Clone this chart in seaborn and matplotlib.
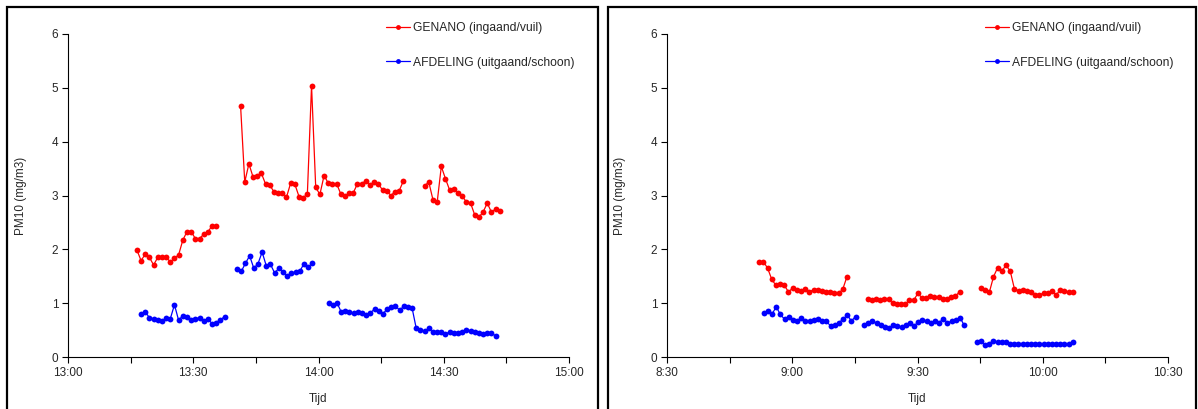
import matplotlib
matplotlib.use("Agg")
import matplotlib.pyplot as plt
import matplotlib.dates as mdates
from matplotlib.lines import Line2D
from matplotlib.patches import Rectangle
import seaborn as sns
import pandas as pd

# ---- data (1-minute readings, gaps between measurement blocks) ----
DAY = "2000-01-01 "

# left panel (afternoon)
left_red_starts = ["13:16:30", "13:41:20", "14:25:25"]
left_red_seg1 = [1.99, 1.79, 1.91, 1.85, 1.71, 1.85, 1.85, 1.85, 1.77, 1.83,
                 1.90, 2.17, 2.33, 2.33, 2.20, 2.20, 2.28, 2.32, 2.44, 2.44]
left_red_seg2 = [4.67, 3.25, 3.59, 3.34, 3.36, 3.41, 3.21, 3.19, 3.07, 3.05,
                 3.05, 2.97, 3.23, 3.21, 2.98, 2.96, 3.03, 5.04, 3.15, 3.02,
                 3.37, 3.23, 3.22, 3.22, 3.03, 2.99, 3.04, 3.05, 3.22, 3.22,
                 3.27, 3.20, 3.25, 3.22, 3.10, 3.09, 3.00, 3.07, 3.09, 3.27]
left_red_seg3 = [3.18, 3.25, 2.92, 2.87, 3.54, 3.31, 3.10, 3.12, 3.04, 2.99,
                 2.88, 2.86, 2.64, 2.60, 2.69, 2.86, 2.69, 2.75, 2.71]

left_blue_starts = ["13:17:30", "13:40:30", "14:02:25"]
left_blue_seg1 = [0.80, 0.84, 0.73, 0.71, 0.69, 0.67, 0.72, 0.71, 0.97, 0.68,
                  0.77, 0.74, 0.69, 0.71, 0.73, 0.67, 0.71, 0.62, 0.64, 0.69, 0.75]
left_blue_seg2 = [1.64, 1.59, 1.74, 1.88, 1.65, 1.73, 1.95, 1.69, 1.72, 1.56,
                  1.65, 1.58, 1.50, 1.56, 1.58, 1.59, 1.73, 1.67, 1.74]
left_blue_seg3 = [1.01, 0.97, 1.01, 0.84, 0.85, 0.83, 0.82, 0.84, 0.81, 0.78,
                  0.82, 0.89, 0.85, 0.80, 0.89, 0.93, 0.95, 0.87, 0.94, 0.93,
                  0.91, 0.53, 0.50, 0.48, 0.53, 0.46, 0.46, 0.46, 0.42, 0.47,
                  0.45, 0.45, 0.46, 0.50, 0.49, 0.47, 0.45, 0.43, 0.45, 0.45, 0.39]

# right panel (morning)
right_red_starts = ["08:52:06", "09:18:04", "09:45:12"]
right_red_seg1 = [1.77, 1.77, 1.65, 1.44, 1.33, 1.35, 1.33, 1.21, 1.28, 1.25,
                  1.23, 1.27, 1.21, 1.25, 1.25, 1.22, 1.20, 1.20, 1.18, 1.18,
                  1.26, 1.49]
right_red_seg2 = [1.07, 1.05, 1.07, 1.05, 1.07, 1.07, 1.00, 0.99, 0.99, 0.99,
                  1.05, 1.05, 1.18, 1.10, 1.09, 1.14, 1.12, 1.12, 1.07, 1.07,
                  1.12, 1.13, 1.21]
right_red_seg3 = [1.29, 1.24, 1.20, 1.49, 1.66, 1.60, 1.70, 1.60, 1.27, 1.23,
                  1.25, 1.22, 1.20, 1.15, 1.16, 1.18, 1.19, 1.23, 1.15, 1.25,
                  1.23, 1.20, 1.20]

right_blue_starts = ["08:53:10", "09:17:11", "09:44:11"]
right_blue_seg1 = [0.81, 0.86, 0.80, 0.93, 0.79, 0.70, 0.74, 0.69, 0.67, 0.73,
                   0.66, 0.66, 0.69, 0.70, 0.66, 0.66, 0.58, 0.59, 0.64, 0.70,
                   0.78, 0.67, 0.75]
right_blue_seg2 = [0.59, 0.63, 0.66, 0.63, 0.59, 0.56, 0.54, 0.59, 0.57, 0.56,
                   0.60, 0.64, 0.58, 0.65, 0.68, 0.66, 0.63, 0.67, 0.64, 0.71,
                   0.64, 0.66, 0.69, 0.73, 0.59]
right_blue_seg3 = [0.28, 0.30, 0.22, 0.25, 0.30, 0.28, 0.27, 0.27, 0.25, 0.24,
                   0.25, 0.25, 0.24, 0.24, 0.25, 0.24, 0.25, 0.24, 0.24, 0.24,
                   0.24, 0.24, 0.25, 0.28]

RED_LABEL = "GENANO (ingaand/vuil)"
BLUE_LABEL = "AFDELING (uitgaand/schoon)"
palette = {RED_LABEL: "#FF0000", BLUE_LABEL: "#0000FF"}


def build_frame(red_starts, red_segs, blue_starts, blue_segs):
    rows = []
    for label, starts, segs in [(RED_LABEL, red_starts, red_segs),
                                (BLUE_LABEL, blue_starts, blue_segs)]:
        for i, (start, vals) in enumerate(zip(starts, segs)):
            times = pd.date_range(DAY + start, periods=len(vals), freq="1min")
            for t, v in zip(times, vals):
                rows.append({"Tijd": t, "PM10": v, "serie": label,
                             "blok": f"{label}-{i}"})
    return pd.DataFrame(rows)


left_df = build_frame(left_red_starts, [left_red_seg1, left_red_seg2, left_red_seg3],
                      left_blue_starts, [left_blue_seg1, left_blue_seg2, left_blue_seg3])
right_df = build_frame(right_red_starts, [right_red_seg1, right_red_seg2, right_red_seg3],
                       right_blue_starts, [right_blue_seg1, right_blue_seg2, right_blue_seg3])

sns.set_style("white")
plt.rcParams["font.family"] = ["Liberation Sans", "DejaVu Sans"]
plt.rcParams["font.size"] = 8.5

W, H = 1198, 409
fig = plt.figure(figsize=(W / 100, H / 100), dpi=100)


def hhmm(x, pos=None):
    d = mdates.num2date(x)
    return f"{d.hour}:{d.minute:02d}"


def draw_panel(df, px_left, x_start, x_end, box):
    ax = fig.add_axes([px_left / W, 1 - 357 / H, 501 / W, 323 / H])
    sns.lineplot(data=df, x="Tijd", y="PM10", hue="serie", units="blok",
                 estimator=None, palette=palette, marker="o", markersize=4.2,
                 markeredgewidth=0, linewidth=0.9, legend=False, ax=ax)
    ax.set_xlim(pd.Timestamp(DAY + x_start), pd.Timestamp(DAY + x_end))
    ax.set_ylim(0, 6)
    ax.set_yticks(range(0, 7))
    ax.xaxis.set_major_locator(mdates.MinuteLocator(byminute=[0, 30]))
    ax.xaxis.set_minor_locator(mdates.MinuteLocator(byminute=[15, 45]))
    ax.xaxis.set_major_formatter(plt.FuncFormatter(hhmm))
    ax.tick_params(axis="both", which="both", direction="out", length=4,
                   width=0.8, color="black", labelsize=8.5, pad=3)
    ax.tick_params(axis="x", which="both", bottom=True, length=4)
    ax.tick_params(axis="y", left=True)
    for s in ["top", "right"]:
        ax.spines[s].set_visible(False)
    for s in ["left", "bottom"]:
        ax.spines[s].set_color("black")
        ax.spines[s].set_linewidth(0.8)
    ax.set_xlabel("Tijd", fontsize=8.5, labelpad=10)
    ax.set_ylabel("PM10 (mg/m3)", fontsize=8.5, labelpad=18)
    ax.grid(False)

    handles = [Line2D([], [], color=palette[k], marker="o", markersize=3.5,
                      markeredgewidth=0, linewidth=0.9) for k in palette]
    ax.legend(handles, list(palette), loc="upper left", frameon=False,
              bbox_to_anchor=((px_left + 307) / W, 1 - 11.5 / H),
              bbox_transform=fig.transFigure, handlelength=2.0,
              handletextpad=0.25, labelspacing=1.82, fontsize=8.75)

    fig.add_artist(Rectangle((box[0] / W, -0.05), (box[1] - box[0]) / W,
                             1.05 - 7 / H, transform=fig.transFigure,
                             fill=False, edgecolor="black", linewidth=1.6))
    return ax


draw_panel(left_df, 68, "13:00", "15:00", (7, 598))
draw_panel(right_df, 667, "08:30", "10:30", (608, 1196))

fig.savefig("out.png", dpi=100)
plt.close(fig)
